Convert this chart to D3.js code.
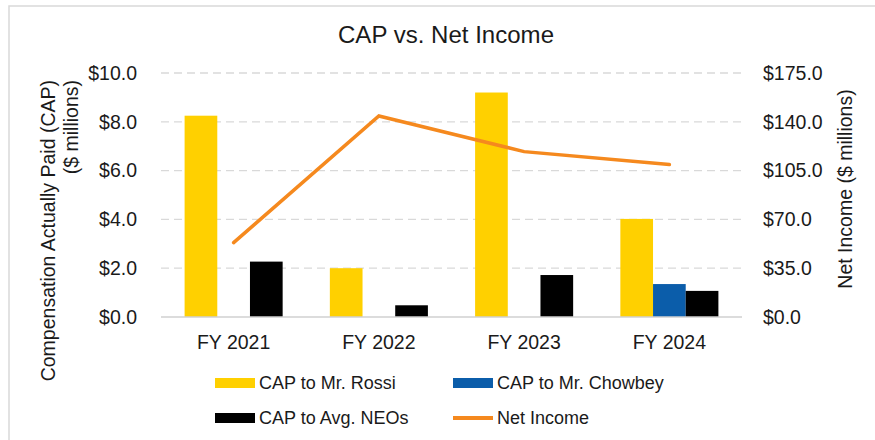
<!DOCTYPE html>
<html>
<head>
<meta charset="utf-8">
<script src="https://cdn.jsdelivr.net/npm/d3@7"></script>
<style>
  body { margin: 0; background: #fff; }
  text { font-family: "Liberation Sans", Arial, sans-serif; fill: #1a1a1a; }
</style>
</head>
<body>
<div id="chart"></div>
<script>
// data
var years = ["FY 2021", "FY 2022", "FY 2023", "FY 2024"];
var capRossi = [8.25, 2.0, 9.2, 4.02];
var capChowbey = [null, null, null, 1.35];
var capNeos = [2.27, 0.48, 1.72, 1.07];
var netIncome = [53.3, 144.2, 118.6, 109.3];
var leftTicks = [0, 2, 4, 6, 8, 10];
var rightTicks = [0, 35, 70, 105, 140, 175];

var width = 875, height = 440;
var margin = { top: 73, right: 133, bottom: 123, left: 161 };

var svg = d3.select("#chart").append("svg")
    .attr("width", width)
    .attr("height", height);

// frame
svg.append("rect")
    .attr("x", 9).attr("y", 6)
    .attr("width", width).attr("height", height)
    .attr("fill", "none")
    .attr("stroke", "#d9d9d9")
    .attr("stroke-width", 1.5);

var x = d3.scaleBand()
    .domain(years)
    .range([margin.left, width - margin.right]);

var inner = d3.scaleBand()
    .domain(["rossi", "chowbey", "neos"])
    .range([0, x.bandwidth() * 0.675])
    .padding(0);

var yL = d3.scaleLinear().domain([0, 10]).range([height - margin.bottom, margin.top]);
var yR = d3.scaleLinear().domain([0, 175]).range([height - margin.bottom, margin.top]);

// gridlines
svg.append("g").selectAll("line")
    .data(leftTicks.slice(1))
    .enter().append("line")
    .attr("x1", margin.left)
    .attr("x2", width - margin.right)
    .attr("y1", function(d) { return yL(d); })
    .attr("y2", function(d) { return yL(d); })
    .attr("stroke", "#d9d9d9")
    .attr("stroke-width", 1.3)
    .attr("stroke-dasharray", "8,5");

// bars
var series = [
    { key: "rossi", values: capRossi, color: "#FFD000" },
    { key: "chowbey", values: capChowbey, color: "#0B5DAA" },
    { key: "neos", values: capNeos, color: "#000000" }
];

var groupOffset = (x.bandwidth() - inner.range()[1]) / 2;

series.forEach(function(s) {
    var pts = s.values
        .map(function(v, i) { return { year: years[i], v: v }; })
        .filter(function(d) { return d.v != null; });
    svg.append("g").selectAll("rect")
        .data(pts)
        .enter().append("rect")
        .attr("x", function(d) { return x(d.year) + groupOffset + inner(s.key); })
        .attr("y", function(d) { return yL(d.v); })
        .attr("width", inner.bandwidth())
        .attr("height", function(d) { return yL(0) - yL(d.v); })
        .attr("fill", s.color);
});

// baseline
svg.append("line")
    .attr("x1", margin.left).attr("x2", width - margin.right)
    .attr("y1", yL(0)).attr("y2", yL(0))
    .attr("stroke", "#d0d0d0")
    .attr("stroke-width", 1.5);

// net income line
var line = d3.line()
    .x(function(d, i) { return x(years[i]) + x.bandwidth() / 2; })
    .y(function(d) { return yR(d); });

svg.append("path")
    .datum(netIncome)
    .attr("d", line)
    .attr("fill", "none")
    .attr("stroke", "#F5891E")
    .attr("stroke-width", 3.5)
    .attr("stroke-linecap", "round");

// axes
var fmt = function(d) { return "$" + d3.format(".1f")(d); };

var axL = svg.append("g")
    .attr("transform", "translate(" + margin.left + ",0)")
    .call(d3.axisLeft(yL).tickValues(leftTicks).tickFormat(fmt).tickSize(0).tickPadding(24));
axL.select(".domain").remove();

var axR = svg.append("g")
    .attr("transform", "translate(" + (width - margin.right) + ",0)")
    .call(d3.axisRight(yR).tickValues(rightTicks).tickFormat(fmt).tickSize(0).tickPadding(21));
axR.select(".domain").remove();

var axX = svg.append("g")
    .attr("transform", "translate(0," + yL(0) + ")")
    .call(d3.axisBottom(x).tickSize(0).tickPadding(18));
axX.select(".domain").remove();

svg.selectAll(".tick text")
    .style("font-family", "'Liberation Sans', Arial, sans-serif")
    .style("font-size", "19.5px")
    .attr("fill", "#1a1a1a");

// title
svg.append("text")
    .attr("x", 338).attr("y", 43)
    .attr("textLength", 216)
    .attr("lengthAdjust", "spacingAndGlyphs")
    .style("font-size", "23px")
    .text("CAP vs. Net Income");

// axis titles
svg.append("text")
    .attr("transform", "translate(55,80) rotate(-90)")
    .attr("text-anchor", "end")
    .style("font-size", "19.5px")
    .text("Compensation Actually Paid (CAP)");
svg.append("text")
    .attr("transform", "translate(78,80) rotate(-90)")
    .attr("text-anchor", "end")
    .style("font-size", "19.5px")
    .text("($ millions)");
svg.append("text")
    .attr("transform", "translate(852,189) rotate(-90)")
    .attr("text-anchor", "middle")
    .style("font-size", "19.5px")
    .text("Net Income ($ millions)");

// legend
var legendItems = [
    { label: "CAP to Mr. Rossi", color: "#FFD000", type: "bar", lx: 215, ly: 383 },
    { label: "CAP to Mr. Chowbey", color: "#0B5DAA", type: "bar", lx: 453, ly: 383 },
    { label: "CAP to Avg. NEOs", color: "#000000", type: "bar", lx: 215, ly: 418 },
    { label: "Net Income", color: "#F5891E", type: "line", lx: 453, ly: 418 }
];

var lg = svg.append("g").selectAll("g")
    .data(legendItems)
    .enter().append("g")
    .attr("transform", function(d) { return "translate(" + d.lx + "," + d.ly + ")"; });

lg.append("rect")
    .attr("x", 0)
    .attr("y", function(d) { return d.type == "bar" ? -5 : -2; })
    .attr("width", 40)
    .attr("height", function(d) { return d.type == "bar" ? 10 : 4; })
    .attr("fill", function(d) { return d.color; });

lg.append("text")
    .attr("x", 44)
    .attr("dy", "0.35em")
    .style("font-size", "18px")
    .text(function(d) { return d.label; });
</script>
</body>
</html>
